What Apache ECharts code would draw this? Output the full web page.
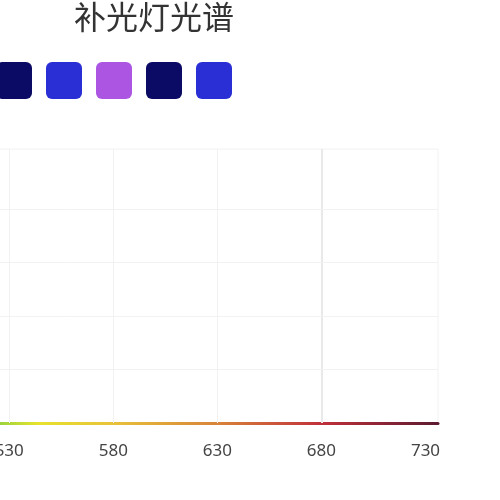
<!DOCTYPE html>
<html>
<head>
<meta charset="utf-8">
<title>补光灯光谱</title>
<script src="https://cdn.jsdelivr.net/npm/echarts@6/dist/echarts.min.js"></script>
<style>
  html, body { margin: 0; padding: 0; background: #fff; overflow: hidden; }
  #wrap { position: relative; width: 500px; height: 500px; overflow: hidden; }
  /* 图表比窗口宽，只露出右半部分 */
  #chart { position: absolute; left: -400px; top: 0; width: 900px; height: 500px; }
</style>
</head>
<body>
<div id="wrap"><div id="chart"></div></div>
<script>
// 图例 (灯珠) 名称和颜色
var ledNames = ['灯珠1', '灯珠2', '灯珠3', '灯珠4', '灯珠5'];
var ledColors = ['#0b0b66', '#2a2fd5', '#ab55e2', '#0b0b66', '#2a2fd5'];
// 光谱数据在当前视野内没有可见的点
var ledData = [[], [], [], [], []];

// 横轴 (波长 nm)
var xMin = 380;
var xMax = 736;
var xLabels = [530, 580, 630, 680, 730];
var xGridLines = [430, 480, 530, 580, 630];
var xMarkLine = [680];
// 纵轴
var yMin = 0;
var yMax = 102.5;
var yGridLines = [20, 40, 60, 80];

var myChart = echarts.init(document.getElementById('chart'));

// 分隔线用 markLine 画
var markData = [];
xGridLines.forEach(function (v) {
  markData.push({ xAxis: v, lineStyle: { color: '#f2f2f2', width: 1, type: 'solid' } });
});
xMarkLine.forEach(function (v) {
  markData.push({ xAxis: v, lineStyle: { color: '#e9e9e9', width: 2, type: 'solid' } });
});
yGridLines.forEach(function (v) {
  markData.push({ yAxis: v, lineStyle: { color: '#f2f2f2', width: 1, type: 'solid' } });
});

var series = ledNames.map(function (name, i) {
  var s = {
    name: name,
    type: 'line',
    showSymbol: false,
    smooth: true,
    itemStyle: { color: ledColors[i] },
    lineStyle: { color: ledColors[i], width: 2 },
    data: ledData[i]
  };
  if (i === 0) {
    s.markLine = {
      silent: true,
      symbol: 'none',
      label: { show: false },
      animation: false,
      data: markData
    };
  }
  return s;
});

var option = {
  backgroundColor: '#fff',
  animation: false,
  title: {
    text: '补光灯光谱',
    left: 474,
    top: 1,
    padding: 0,
    textStyle: {
      fontFamily: 'Noto Sans CJK SC',
      fontSize: 32,
      fontWeight: 'normal',
      color: '#333'
    }
  },
  legend: {
    left: 396,
    top: 62,
    padding: 0,
    // 小圆角方块
    icon: 'path://M6,0 H30 A6,6 0 0 1 36,6 V31 A6,6 0 0 1 30,37 H6 A6,6 0 0 1 0,31 V6 A6,6 0 0 1 6,0 Z',
    itemWidth: 36,
    itemHeight: 37,
    itemGap: 14,
    textStyle: { fontSize: 1 },
    formatter: function () { return ''; },
    data: ledNames
  },
  grid: {
    left: 97,
    right: 62,
    top: 149,
    bottom: 77,
    show: true,
    borderColor: '#f2f2f2',
    borderWidth: 1
  },
  xAxis: {
    type: 'value',
    min: xMin,
    max: xMax,
    interval: 10,
    axisLine: {
      lineStyle: {
        width: 3,
        // 光谱颜色渐变
        color: new echarts.graphic.LinearGradient(0, 0, 1, 0, [
          { offset: 0, color: '#7a2fd0' },
          { offset: 0.2, color: '#2a40e0' },
          { offset: 0.33, color: '#20c0d0' },
          { offset: 0.40, color: '#8fd040' },
          { offset: 0.46, color: '#e6e32c' },
          { offset: 0.56, color: '#e8c23a' },
          { offset: 0.70, color: '#d8843a' },
          { offset: 0.84, color: '#c0303a' },
          { offset: 1, color: '#5a1a30' }
        ])
      }
    },
    axisTick: { show: false },
    splitLine: { show: false },
    axisLabel: {
      margin: 20,
      fontSize: 17,
      fontFamily: 'Noto Sans',
      color: '#444',
      formatter: function (v) {
        return xLabels.indexOf(v) >= 0 ? String(v) : '';
      }
    }
  },
  yAxis: {
    type: 'value',
    min: yMin,
    max: yMax,
    axisLine: { show: false },
    axisTick: { show: false },
    axisLabel: { show: false },
    splitLine: { show: false }
  },
  series: series
};

myChart.setOption(option);
</script>
</body>
</html>
